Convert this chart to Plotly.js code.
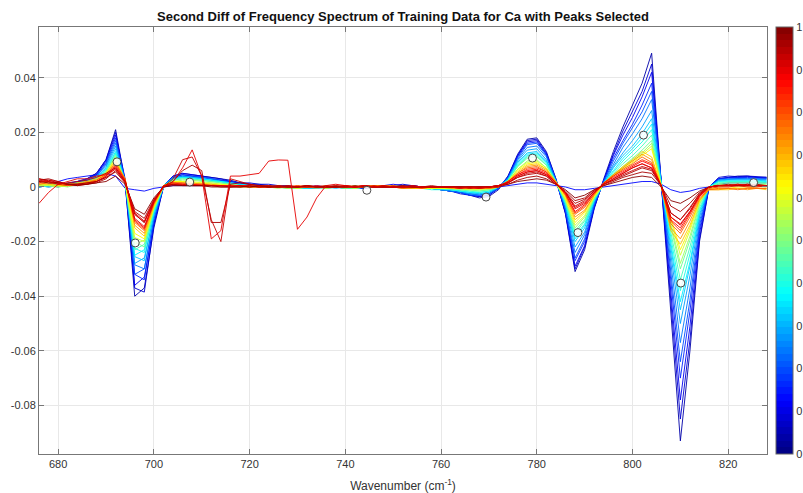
<!DOCTYPE html>
<html><head><meta charset="utf-8">
<script src="https://cdn.plot.ly/plotly-3.0.1.min.js"></script>
<style>html,body{margin:0;padding:0;background:#fff}#chart{width:803px;height:493px}</style>
</head><body><div id="chart"></div>
<script>
// Wavenumber grid (cm^-1)
const wavenumber = [676,678,680,682,684,686,688,690,692,694,696,698,700,702,704,706,708,710,712,714,716,718,720,722,724,726,728,730,732,734,736,738,740,742,744,746,748,750,752,754,756,758,760,762,764,766,768,770,772,774,776,778,780,782,784,786,788,790,792,794,796,798,800,802,804,806,808,810,812,814,816,818,820,822,824,826,828];

// Second-difference spectra, values in units of 1e-4
const s01 = [5,10,5,10,20, 30,50,100,210,20,-400,-370,-150,0,40, 50,45,40,35,30,25, 15,10,10,5,5,0,0,0,0,0,0,0,-5,-5,0,5,5,5,5,0,-5, -10,-15,-20,-30,-40,-35, -10, 40,120,175,180,130,30,-100,-310,-230,-80, 30,130,220,300,380,490,20,-450,-930,-600,-200,0, 30,35,40,40,35,35];
const s02 = [0,5,10,5,15, 30,50,100,200,10,-370,-385,-140,0,35, 45,40,40,35,30,20, 15,15,10,10,5,5,0,0,5,0,0,-5,-5,0,0,5,5,10,5,0,-5, -10,-15,-25,-30,-35,-30, -5, 40,115,170,175,125,30,-95,-300,-220,-75, 25,120,205,275,350,450,15,-410,-850,-560,-190,0, 35,40,38,40,38,36];
const s03 = [10,5,0,10,20, 25,45,95,190,30,-360,-330,-135,5,40, 50,45,40,30,25,20, 15,10,5,5,5,0,0,-5,0,0,5,0,-5,-5,0,5,10,5,5,0,-5, -10,-15,-20,-30,-35,-30, -5, 35,115,165,170,120,25,-95,-290,-215,-75, 25,115,190,255,330,420,15,-375,-780,-510,-170,0, 30,35,35,38,35,32];
const s04 = [5,0,5,15,20, 30,45,90,180,15,-320,-340,-130,0,35, 45,40,35,30,25,20, 10,10,5,5,0,0,0,0,0,-5,0,0,-5,0,0,5,5,5,0,0,-5, -10,-15,-20,-25,-30,-25, -5, 35,110,160,165,120,25,-85,-270,-200,-70, 25,105,170,230,300,380,15,-340,-700,-455,-155,0, 30,33,35,35,33,33];
const s05 = [0,5,10,10,15, 25,40,85,170,25,-320,-300,-120,5,35, 40,40,35,30,25,15, 10,10,5,0,5,0,0,0,-5,0,0,0,-5,-5,0,5,5,5,0,-5,-5, -10,-15,-20,-30,-30,-25, 0, 35,105,155,160,115,25,-85,-260,-190,-65, 20,95,160,215,275,350,15,-310,-640,-415,-140,0, 28,30,32,32,30,30];
const s06 = [5,10,5,5,10, 25,40,80,160,20,-285,-300,-115,0,30, 40,35,35,30,20,15, 10,5,5,5,0,0,-5,0,0,0,0,-5,-5,0,5,5,5,0,0,-5,-5, -10,-15,-20,-25,-30,-25, -5, 30,100,145,150,110,25,-80,-240,-175,-60, 20,85,145,195,250,320,15,-275,-570,-370,-125,0, 25,28,30,30,28,28];
const s07 = [10,5,5,10,15, 25,40,75,150,20,-280,-260,-105,5,35, 40,35,30,25,20,15, 10,5,5,0,0,0,0,-5,-5,0,0,0,-5,0,0,5,0,5,0,-5,-5, -10,-10,-15,-25,-25,-20, 0, 30,95,135,140,100,20,-70,-220,-165,-55, 15,75,125,170,220,280,10,-240,-500,-325,-110,0, 25,28,28,30,28,25];
const s08 = [0,5,10,5,15, 20,35,70,140,20,-255,-270,-100,0,30, 35,35,30,25,20,15, 10,5,5,0,0,-5,0,0,0,0,-5,0,-5,0,0,5,5,0,0,-5,-5, -5,-10,-15,-20,-25,-20, 0, 30,90,125,130,95,20,-65,-200,-150,-50, 15,70,115,150,195,250,10,-215,-450,-290,-100,0, 22,25,25,25,25,22];
const s09 = [5,0,5,10,10, 20,35,65,130,20,-250,-230,-95,5,30, 35,30,30,25,20,15, 10,5,0,0,0,0,-5,-5,0,0,0,-5,-5,0,0,5,5,0,-5,-5,-5, -5,-10,-15,-20,-20,-15, 0, 25,85,120,125,90,20,-60,-190,-140,-50, 15,60,105,140,180,230,10,-200,-420,-275,-90,0, 20,22,22,24,22,20];
const s10 = [10,5,0,5,10, 20,30,60,125,15,-225,-240,-90,0,25, 35,30,25,20,20,10, 5,5,5,0,0,0,0,-5,0,-5,0,0,-5,0,0,5,0,0,-5,-5,-10, -10,-10,-15,-15,-20,-15, 0, 25,80,115,120,85,20,-60,-180,-135,-45, 15,55,95,130,165,210,10,-180,-380,-245,-85,0, 18,20,20,22,20,18];
const s11 = [0,5,5,10,15, 20,30,60,120,20,-230,-210,-85,5,25, 30,30,25,20,15,10, 5,5,0,0,0,-5,-5,0,0,0,0,-5,-5,0,5,5,0,0,-5,-5,-5, -5,-10,-10,-15,-15,-10, 0, 25,75,110,115,80,20,-55,-170,-125,-45, 10,50,85,115,150,190,10,-165,-340,-220,-75,0, 15,18,18,20,18,15];
const s12 = [5,10,5,5,10, 15,30,55,115,15,-200,-220,-80,0,25, 30,25,25,20,15,10, 5,5,0,0,0,0,-5,0,0,-5,0,0,-5,0,0,5,0,0,-5,-5,-5, -5,-5,-10,-10,-15,-10, 0, 25,75,105,110,80,20,-50,-160,-120,-40, 10,45,75,105,135,170,5,-145,-300,-195,-65,0, 12,15,15,15,15,12];
const s13 = [10,5,5,0,10, 15,25,55,110,20,-210,-195,-80,5,20, 25,25,20,15,10,10, 5,0,0,0,-5,0,0,0,-5,0,0,-5,0,0,5,5,0,-5,-5,-5,-5, -5,-5,-10,-10,-10,-10, 0, 20,65,95,100,70,15,-50,-150,-110,-40, 10,45,70,100,125,160,5,-135,-280,-180,-60,0, 8,10,10,12,10,8];
const s14 = [5,5,0,5,10, 15,25,50,105,15,-185,-200,-75,0,20, 20,20,15,15,10,5, 5,0,0,0,0,-5,0,0,0,-5,0,0,-5,0,0,5,0,0,-5,-5,-5, -5,-5,-5,-10,-10,-5, 0, 20,65,90,95,70,15,-45,-140,-105,-35, 10,40,70,95,120,150,5,-120,-250,-160,-55,0, 0,5,5,5,5,0];
const s15 = [10,10,5,5,10, 15,25,50,100,20,-170,-190,-70,5,20, 20,15,15,10,10,5, 0,0,0,5,0,0,-5,0,0,0,0,5,0,0,5,5,5,0,0,-5,-5, -5,-5,-5,-5,-5,-5, 0, 20,60,85,90,65,15,-40,-130,-95,-35, 10,40,65,90,115,140,5,-110,-230,-150,-50,-5, -5,-5,0,0,-5,-5];
const s16 = [15,10,5,10,15, 20,30,50,95,30,-150,-180,-70,0,15, 15,15,10,10,5,5, 5,0,0,0,0,0,0,5,0,0,0,0,5,0,5,5,0,0,-5,-5,0, 0,0,-5,-5,-5,-5, 0, 20,55,80,85,65,20,-35,-120,-90,-30, 15,45,75,100,130,110,5,-160,-210,-140,-50,-10, -10,-10,-5,-5,-5,-10];
const s17 = [20,15,10,5,10, 20,25,45,90,25,-140,-170,-65,5,15, 15,10,10,10,5,5, 5,5,0,0,0,0,5,0,0,0,5,0,0,5,5,0,0,-5,-5,0,0, 0,-5,-5,-5,0,-5, 0, 20,50,75,80,60,20,-30,-110,-85,-30, 15,45,70,95,120,100,0,-150,-190,-125,-45,-10, -10,-5,-5,-10,-5,-5];
const s18 = [10,15,15,10,5, 15,25,45,85,30,-130,-160,-60,0,15, 15,10,10,5,5,5, 0,5,0,0,5,0,0,0,0,5,0,0,0,5,0,0,0,-5,0,0,0, 0,0,-5,0,-5,-5, 0, 20,50,70,75,55,15,-30,-100,-75,-25, 15,40,65,85,110,90,0,-135,-170,-110,-40,-10, -5,-5,-10,-5,-5,-5];
const s19 = [20,20,10,5,10, 15,20,40,80,25,-125,-155,-60,5,15, 10,10,10,5,5,5, 5,0,5,0,0,0,5,0,0,0,0,5,0,0,0,5,0,0,0,-5,0, 0,0,0,-5,-5,0, 0, 20,45,65,70,55,15,-25,-95,-70,-25, 15,40,60,80,100,85,5,-125,-160,-100,-35,-5, 0,0,5,0,0,5];
const s20 = [15,25,20,10,5, 10,20,40,75,25,-120,-150,-55,0,10, 10,10,5,5,5,5, 5,5,0,0,5,0,0,0,5,0,0,0,0,5,0,0,5,0,0,0,0, 0,0,-5,0,0,0, 5, 20,45,60,65,50,15,-25,-90,-65,-20, 15,35,55,75,95,80,5,-120,-150,-95,-35,0, 5,5,5,10,5,5];
const s21 = [25,20,15,10,10, 10,20,35,70,20,-115,-145,-55,5,10, 10,5,5,5,5,0, 5,0,0,5,0,0,0,5,0,0,0,5,0,0,5,0,0,0,0,0,0, 0,0,0,0,-5,0, 5, 15,40,55,60,45,15,-20,-80,-60,-20, 10,30,50,70,85,70,5,-110,-140,-90,-30,0, 5,5,10,5,5,5];
const s22 = [30,25,15,10,10, 10,15,30,60,20,-100,-130,-50,0,10, 5,5,5,5,0,0, 0,5,0,0,0,5,0,0,0,5,0,0,0,5,0,0,0,0,5,0,0, 0,0,0,0,0,0, 5, 15,35,45,50,40,10,-20,-60,-45,-15, 10,25,40,55,70,60,5,-95,-120,-75,-25,0, 5,10,5,5,10,5];
const s23 = [20,15,15,10,5, 10,15,20,40,10,-80,-100,-40,0,5, 5,5,5,0,0,0, 0,0,5,0,0,0,0,5,0,0,0,0,5,0,0,0,0,5,0,0,0, 0,0,0,0,0,0, 5, 10,20,25,30,25,10,-10,-40,-30,-10, 5,15,25,35,40,35,0,-50,-60,-40,-15,0, 5,5,5,5,5,5];
const s24 = [-60,-20,10,20,30, 30,40,45,65,15,-95,-125,-50,0,20, 70,136,40,-190,-160,40, 40,45,50,95,99,98,-155,-110,-40,5,10,5,0,5,0,5,0,0,5,0,0, 0,0,-5,0,-5,0, 5, 15,40,55,60,45,15,-20,-75,-55,-20, 10,30,50,70,85,70,5,-110,-135,-90,-30,0, 5,5,10,5,5,5];
const s25 = [30,20,10,15,20, 25,35,50,70,20,-100,-130,-50,0,30, 100,110,40,-120,-200,30, 20,10,5,5,0,5,0,5,0,0,5,0,0,5,0,0,0,5,0,0,0, 0,0,0,-5,0,0, 5, 15,35,50,55,40,10,-20,-70,-50,-15, 10,25,45,60,75,65,5,-95,-120,-80,-25,0, 5,5,5,10,5,5];
const s26 = [25,30,20,10,10, 15,20,35,55,15,-90,-115,-45,0,20, 60,80,60,-130,-130,10, 15,10,5,0,5,0,0,5,0,0,0,5,0,0,0,5,0,0,0,0,5, 0,0,0,0,0,0, 0, 10,25,35,40,30,10,-15,-50,-40,-10, 5,20,35,45,55,50,5,-70,-90,-60,-20,0, 5,5,5,5,5,5];
const s27 = [0,10,20,30,35, 40,45,50,40,-5,-10,-15,-5,0,5, 5,5,5,5,5,5, 5,0,0,0,0,0,0,0,0,0,0,0,0,0,0,0,0,0,0,0,0, 0,-5,-5,-5,-5,-5, 0, 5,10,15,15,10,5,0,-10,-10,-5, 0,5,10,15,20,20,10,-10,-20,-15,-5,0, 10,15,15,15,15,15];

// drawing order (blue first, red last) and colour value of each spectrum (0..1)
const spectra = [s01,s27,s02,s03,s04,s05,s06,s07,s08,s09,s10,s11,s12,s13,s14,s15,s16,s17,s18,s19,s20,s21,s22,s23,s26,s25,s24];
const colorValue = [0.04,0.13,0.08,0.11,0.16,0.20,0.24,0.28,0.32,0.36,0.40,0.44,0.48,0.53,0.58,0.63,0.68,0.73,0.78,0.83,0.87,0.91,0.95,0.99,0.96,0.93,0.90];

// selected peaks
const peakX = [692.3, 696.1, 707.5, 744.5, 769.4, 779.1, 788.6, 802.3, 810.1, 825.3];
const peakY = [0.0092, -0.0205, 0.0018, -0.0012, -0.0037, 0.0106, -0.0167, 0.0190, -0.0352, 0.0016];

const xTickVals = [680,700,720,740,760,780,800,820];
const yTickVals = [-0.08,-0.06,-0.04,-0.02,0,0.02,0.04];
const yTickText = ['-0.08','-0.06','-0.04','-0.02','0','0.02','0.04'];
const cbTickVals = [0,0.1,0.2,0.3,0.4,0.5,0.6,0.7,0.8,0.9,1];
const cbTickText = ['0','0.1','0.2','0.3','0.4','0.5','0.6','0.7','0.8','0.9','1'];

const UNIT = 1e-4;

function jet(c){
  const cl = v => Math.max(0, Math.min(1, v));
  const r = cl(1.5 - Math.abs(4*c - 3));
  const g = cl(1.5 - Math.abs(4*c - 2));
  const b = cl(1.5 - Math.abs(4*c - 1));
  return 'rgb(' + Math.round(r*255) + ',' + Math.round(g*255) + ',' + Math.round(b*255) + ')';
}
// stepped 64-level jet colour scale for the colour bar
const jetScale = [];
const N = 64;
for (let k = 0; k < N; k++) {
  const col = jet((k + 0.5) / N);
  jetScale.push([k / N, col]);
  jetScale.push([(k + 1) / N, col]);
}

const traces = [];
spectra.forEach((s, i) => {
  if (s.length !== wavenumber.length) console.error('length mismatch series ' + i + ': ' + s.length);
  traces.push({
    type: 'scatter', mode: 'lines', x: wavenumber, y: s.map(v => v * UNIT),
    line: {color: jet(colorValue[i]), width: 1}, opacity: 0.9,
    hoverinfo: 'skip', showlegend: false
  });
});
traces.push({
  type: 'scatter', mode: 'markers', x: peakX, y: peakY, showlegend: false, hoverinfo: 'skip',
  marker: {symbol: 'circle', size: 8, color: 'rgba(255,255,255,0.85)', line: {color: '#333', width: 0.9}}
});
traces.push({
  type: 'scatter', mode: 'markers', x: [wavenumber[0]], y: [0], showlegend: false, hoverinfo: 'skip',
  marker: {size: 0.1, opacity: 0, color: [0], cmin: 0, cmax: 1, colorscale: jetScale, showscale: true,
    colorbar: {x: 1.0124, xanchor: 'left', xref: 'paper', xpad: 0, thickness: 17, thicknessmode: 'pixels',
      len: 1, lenmode: 'fraction', y: 0.5, yanchor: 'middle', ypad: 0,
      outlinewidth: 1, outlinecolor: '#666', ticks: '', tickvals: cbTickVals, ticktext: cbTickText,
      tickfont: {family: 'Liberation Sans, Arial, sans-serif', size: 11, color: '#333'}}}
});

const axisFont = {family: 'Liberation Sans, Arial, sans-serif', size: 11, color: '#333'};
const layout = {
  width: 803, height: 493,
  margin: {l: 39, r: 36, t: 27, b: 39, autoexpand: false},
  paper_bgcolor: '#fff', plot_bgcolor: '#fff',
  font: axisFont,
  title: {text: 'Second Diff of Frequency Spectrum of Training Data for Ca with Peaks Selected',
    font: {family: 'Liberation Sans, Arial, sans-serif', size: 13, color: '#111', weight: 'bold'},
    x: 0.5, xref: 'paper', xanchor: 'center', y: 1 - 16/493, yref: 'container', yanchor: 'middle'},
  xaxis: {range: [676, 828.1], tickvals: xTickVals, ticks: 'inside', ticklen: 5, tickcolor: '#777',
    showline: true, linecolor: '#777', linewidth: 1, mirror: 'ticks', showgrid: true, gridcolor: '#e8e8e8',
    zeroline: false, tickfont: axisFont, automargin: false,
    title: {text: 'Wavenumber (cm<sup>-1</sup>)', font: {family: 'Liberation Sans, Arial, sans-serif', size: 12, color: '#333'}, standoff: 12}},
  yaxis: {range: [-0.0978, 0.0586], tickvals: yTickVals, ticktext: yTickText, ticks: 'inside', ticklen: 5, tickcolor: '#777',
    showline: true, linecolor: '#777', linewidth: 1, mirror: 'ticks', showgrid: true, gridcolor: '#e8e8e8',
    zeroline: false, tickfont: axisFont, automargin: false}
};
Plotly.newPlot('chart', traces, layout, {staticPlot: true, displayModeBar: false});
</script></body></html>
